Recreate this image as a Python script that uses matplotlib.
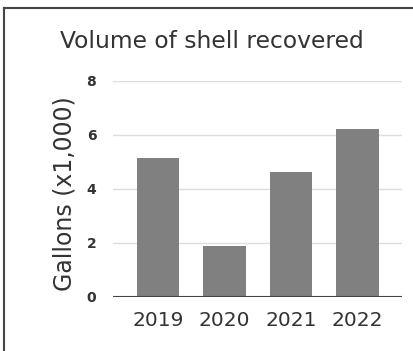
import matplotlib
matplotlib.use("Agg")
import matplotlib.pyplot as plt
from matplotlib.lines import Line2D

years = ["2019", "2020", "2021", "2022"]
gallons = [5.15, 1.9, 4.63, 6.22]
yticks = [0, 2, 4, 6, 8]

plt.rcParams['font.family'] = ['DejaVu Sans']

fig = plt.figure(figsize=(4.14, 3.51), dpi=100)
ax = fig.add_axes([113 / 414, 1 - 297 / 351, 289 / 414, 216 / 351])

ax.bar(range(len(years)), gallons, width=0.64, color="#808080", zorder=3)
ax.set_xlim(-0.68, 3.67)
ax.set_ylim(0, 8)
ax.set_yticks(yticks)
ax.set_xticks(range(len(years)))
ax.set_xticklabels(years, fontsize=14.5, color="#333333")
ax.set_yticklabels([str(t) for t in yticks], fontsize=10, fontweight="bold", color="#333333")
ax.tick_params(length=0, pad=12)
ax.tick_params(axis="x", pad=10)
ax.grid(axis="y", color="#dddddd", linewidth=1, zorder=0)
for s in ax.spines.values():
    s.set_visible(False)
ax.axhline(0, color="#444444", linewidth=1.5, zorder=4)

ax.set_ylabel("Gallons (x1,000)", fontsize=17, color="#333333")
ax.yaxis.set_label_coords(-0.125, 0.48)
fig.text(212 / 414, 1 - 41 / 351, "Volume of shell recovered", fontsize=16.8,
         color="#333333", ha="center", va="center")

# frame around the panel
fig.add_artist(Line2D([4 / 414, 4 / 414], [0, 1 - 8 / 351], color="#444444", linewidth=1.5))
fig.add_artist(Line2D([4 / 414, 1], [1 - 8 / 351, 1 - 8 / 351], color="#444444", linewidth=1.5))

fig.savefig("out.png", dpi=100)
